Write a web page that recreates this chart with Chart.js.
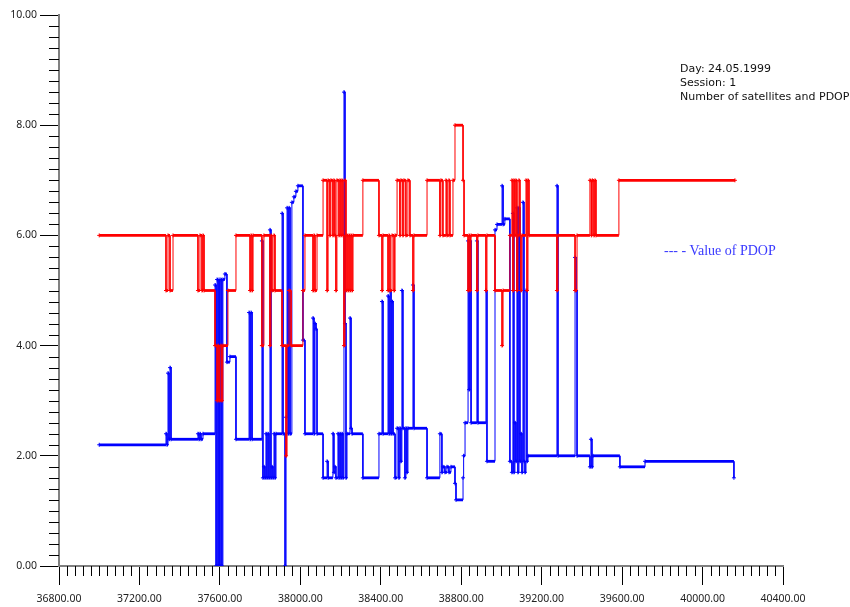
<!DOCTYPE html>
<html>
<head>
<meta charset="utf-8">
<script src="https://cdn.jsdelivr.net/npm/chart.js@4.4.0/dist/chart.umd.min.js"></script>
<style>
  body { margin: 0; background: #fff; }
  #wrap { position: relative; width: 850px; height: 607px; }
  .note { position: absolute; left: 680px; font-family: "DejaVu Sans", sans-serif; font-size: 11px; color: #111; line-height: 14px; }
  .pdop { position: absolute; left: 664px; top: 243px; font-family: "Liberation Serif", serif; font-size: 14px; color: #3a3aff; }
</style>
</head>
<body>
<div id="wrap">
  <canvas id="chart" width="850" height="607"></canvas>
  <div class="note" style="top:62px">Day: 24.05.1999<br>Session: 1<br>Number of satellites and PDOP</div>
  <div class="pdop">--- - Value of PDOP</div>
</div>
<script>
// number of satellites (red), time of change -> count
var satTimes = [37000,37332,37342,37352,37367,37491,37501,37511,37516,37521,37576,37586,37591,37596,37605,37610,37615,37640,37680,
  37750,37755,37760,37765,37809,37819,37849,37854,37859,37869,37874,37909,37929,37934,37944,37954,38013,38023,38063,38068,38073,
  38083,38113,38133,38138,38147,38152,38162,38167,38172,38177,38182,38192,38197,38202,38207,38212,38217,38222,38227,38232,38237,
  38242,38247,38252,38257,38262,38311,38391,38406,38411,38436,38441,38446,38456,38466,38471,38481,38495,38500,38510,38515,38525,
  38535,38545,38560,38565,38630,38694,38699,38709,38724,38729,38739,38744,38759,38769,38809,38814,38834,38839,38844,38849,38878,
  38883,38923,38928,38968,39003,39008,39042,39052,39057,39062,39067,39072,39077,39082,39087,39092,39097,39102,39122,39127,39132,
  39137,39276,39281,39366,39376,39440,39447,39452,39460,39465,39470,39584,40161];
var satCounts = [6,5,6,5,6,5,6,5,6,5,4,3,4,3,4,3,4,5,6,
  5,6,5,6,4,6,4,6,5,6,5,4,2,4,5,4,5,6,5,6,5,
  6,7,5,7,6,7,6,7,6,5,7,6,7,6,7,6,4,7,5,6,5,
  6,5,6,5,6,7,6,5,6,5,6,5,6,5,6,7,6,7,6,7,6,
  7,6,5,6,7,6,7,6,7,6,7,6,7,8,7,6,5,6,5,6,5,
  6,5,6,5,4,5,6,7,5,7,6,7,5,6,7,6,5,6,7,5,7,
  6,5,6,5,6,7,6,7,6,7,6,7,7];

// PDOP (blue), time of change -> value
var pdopTimes = [37000,37332,37337,37342,37347,37352,37357,37491,37496,37501,37506,37516,37576,37581,37586,37591,37596,37600,37605,
  37610,37615,37625,37635,37650,37680,37745,37750,37755,37760,37809,37814,37819,37824,37829,37834,37839,37844,37849,37854,37859,
  37864,37869,37874,37879,37909,37914,37924,37929,37934,37939,37944,37949,37958,37968,37978,37988,38013,38023,38063,38068,38073,
  38078,38083,38113,38133,38138,38162,38167,38172,38177,38187,38192,38197,38202,38207,38212,38217,38222,38227,38232,38247,38252,
  38257,38311,38391,38406,38411,38436,38441,38446,38451,38456,38461,38471,38481,38490,38495,38500,38505,38510,38520,38525,38530,
  38535,38560,38565,38630,38694,38704,38709,38719,38729,38739,38749,38769,38774,38809,38812,38819,38834,38839,38844,38849,38878,
  38883,38923,38928,38968,38978,39003,39008,39017,39042,39052,39057,39062,39067,39072,39077,39082,39087,39092,39097,39102,39107,
  39112,39117,39122,39127,39132,39276,39281,39366,39371,39376,39440,39445,39450,39455,39589,39714,40156];
var pdopValues = [2.2,2.4,2.2,3.5,2.3,3.6,2.3,2.4,2.3,2.4,2.3,2.4,5.1,0,5.2,0,5.2,0,5.2,
  0,5.2,5.3,3.7,3.8,2.3,4.6,2.3,4.6,2.3,5.9,1.6,1.8,1.6,2.4,1.6,2.4,1.6,6.1,1.6,1.8,
  1.6,2.4,1.6,2.4,6.4,2.4,0,2.7,6.5,2.4,6.5,2.4,6.6,6.7,6.8,6.9,4.1,2.4,4.5,2.4,4.4,
  4.3,2.4,1.6,1.9,1.6,2.4,1.7,1.8,1.6,2.4,1.6,2.4,1.6,2.4,1.6,8.6,4.4,1.6,2.4,4.5,2.5,
  2.4,1.6,2.4,4.8,2.4,4.9,2.4,5.0,2.4,4.8,2.4,1.6,2.5,1.6,2.5,1.9,5.0,2.5,1.6,2.5,1.7,
  2.5,5.1,2.5,1.6,2.4,1.7,1.8,1.7,1.8,1.7,1.8,1.5,1.2,1.6,2.0,2.6,5.9,3.2,5.9,2.6,5.9,
  2.6,5.0,1.9,6.1,6.2,6.9,6.2,6.3,1.9,1.7,6.4,1.7,2.6,1.9,6.5,1.7,6.5,1.9,2.4,1.7,6.6,
  1.9,1.7,5.0,1.9,2.0,6.9,2.0,5.6,5.0,2.0,1.8,2.3,1.8,2.0,1.8,1.9,1.6];

var xTickLabels = [36800,37200,37600,38000,38400,38800,39200,39600,40000,40400];
var yTickLabels = [0,2,4,6,8,10];

// turn (time, value) changes into step vertices; m marks the real samples
function stepPoints(times, values) {
  var pts = [];
  for (var i = 0; i < times.length; i++) {
    if (i > 0) pts.push({x: times[i], y: values[i - 1], m: false});
    pts.push({x: times[i], y: values[i], m: true});
  }
  return pts;
}

function stepDataset(times, values, color) {
  return {
    data: stepPoints(times, values),
    borderColor: color,
    backgroundColor: color,
    fill: false,
    pointStyle: 'cross',
    pointRadius: function(c) { return c.raw && c.raw.m ? 2 : 0; },
    pointBorderWidth: 1,
    pointBorderColor: color,
    segment: {
      borderWidth: function(c) { return c.p0.parsed.x === c.p1.parsed.x ? 1 : 2.8; }
    }
  };
}

var minorTicks = {
  id: 'minorTicks',
  afterDraw: function(chart) {
    var ctx = chart.ctx, xs = chart.scales.x, ys = chart.scales.y;
    ctx.save();
    ctx.strokeStyle = '#000';
    ctx.lineWidth = 1;
    ctx.beginPath();
    for (var v = 36800; v <= 40400; v += 40) {
      if (v % 400 === 0) continue;
      var px = Math.round(xs.getPixelForValue(v)) + 0.5;
      ctx.moveTo(px, ys.bottom);
      ctx.lineTo(px, ys.bottom + 10);
    }
    for (var i = 0; i <= 50; i++) {
      if (i % 10 === 0) continue;
      var py = Math.round(ys.getPixelForValue(i * 0.2)) + 0.5;
      ctx.moveTo(xs.left - 10, py);
      ctx.lineTo(xs.left, py);
    }
    ctx.stroke();
    ctx.restore();
  }
};

Chart.defaults.font.family = 'Noto Sans';
Chart.defaults.font.size = 10.5;
Chart.defaults.color = '#222';

new Chart(document.getElementById('chart'), {
  type: 'line',
  data: {
    datasets: [
      stepDataset(satTimes, satCounts, '#ff0000'),
      stepDataset(pdopTimes, pdopValues, '#0000ff')
    ]
  },
  options: {
    responsive: false,
    animation: false,
    layout: { padding: { top: 15, right: 67, left: 0, bottom: 0 } },
    plugins: { legend: { display: false }, tooltip: { enabled: false } },
    scales: {
      x: {
        type: 'linear',
        min: 36800,
        max: 40400,
        afterBuildTicks: function(s) { s.ticks = xTickLabels.map(function(v) { return {value: v}; }); },
        afterFit: function(s) { s.height = 41; },
        ticks: { autoSkip: false, maxRotation: 0, padding: 8, callback: function(v) { return v.toFixed(2); } },
        grid: { drawOnChartArea: false, color: '#000', tickLength: 19 },
        border: { color: '#808080', width: 2 }
      },
      y: {
        min: 0,
        max: 10,
        afterBuildTicks: function(s) { s.ticks = yTickLabels.map(function(v) { return {value: v}; }); },
        afterFit: function(s) { s.width = 59; },
        ticks: { padding: 3, callback: function(v) { return v.toFixed(2); } },
        grid: { drawOnChartArea: false, color: '#000', tickLength: 19 },
        border: { color: '#808080', width: 2 }
      }
    }
  },
  plugins: [minorTicks]
});
</script>
</body>
</html>
